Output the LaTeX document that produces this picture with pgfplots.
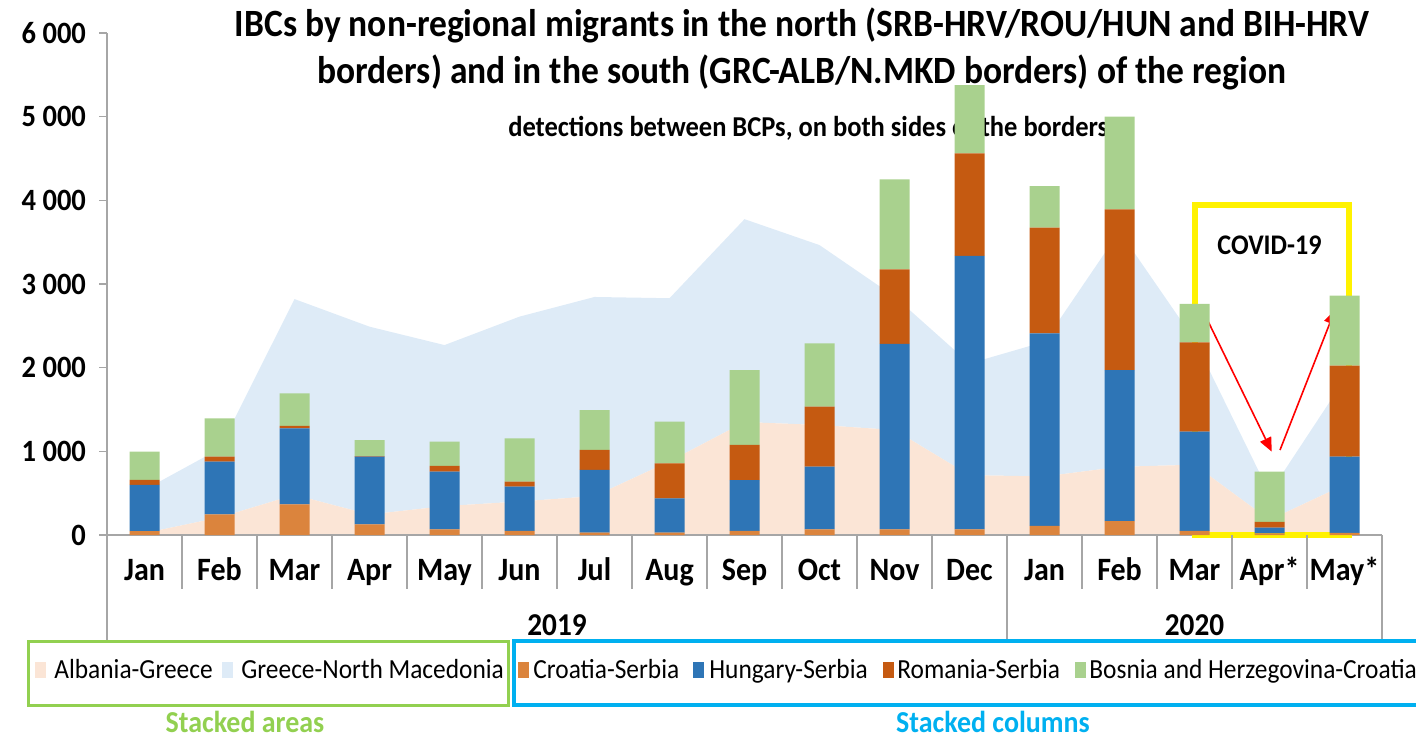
\documentclass[border=0pt]{standalone}
\usepackage{fontspec}
\setmainfont{Carlito}[FakeStretch=0.92]
\usepackage{pgfplots}
\pgfplotsset{compat=1.18}
\usetikzlibrary{arrows.meta}
\definecolor{agr}{HTML}{FBE5D6}
\definecolor{gnm}{HTML}{DEEBF7}
\definecolor{crs}{HTML}{DB843D}
\definecolor{hus}{HTML}{2E75B6}
\definecolor{ros}{HTML}{C55A11}
\definecolor{bhc}{HTML}{A9D18E}
\definecolor{axgray}{HTML}{A6A6A6}
\definecolor{lgreen}{HTML}{92D050}
\definecolor{lblue}{HTML}{00B0F0}
\begin{document}
\begin{tikzpicture}
\useasboundingbox (0,0) rectangle (708pt,369pt);
\pgfplotsset{base/.style={at={(53.5pt,101.5pt)}, anchor=south west, scale only axis,
  width=637.5pt, height=251pt, xmin=-0.5, xmax=16.5, ymin=0, ymax=6000, enlargelimits=false}}
% stacked areas
\begin{axis}[base, axis lines=none, stack plots=y]
\addplot[fill=agr, draw=none] coordinates {(0,22)(1,210)(2,480)(3,245)(4,345)(5,400)(6,465)(7,880)(8,1350)(9,1315)(10,1255)(11,715)(12,700)(13,815)(14,840)(15,180)(16,600)} \closedcycle;
\addplot[fill=gnm, draw=none] coordinates {(0,518)(1,820)(2,2340)(3,2245)(4,1925)(5,2210)(6,2380)(7,1950)(8,2425)(9,2150)(10,1595)(11,1335)(12,1610)(13,2815)(14,1490)(15,320)(16,1260)} \closedcycle;
\end{axis}
% stacked columns
\begin{axis}[base, ybar stacked, bar width=15pt, clip=false,
  axis x line*=bottom, axis y line*=left,
  axis line style={axgray, line width=0.75pt, -},
  ytick={0,1000,...,6000}, scaled y ticks=false,
  ytick style={axgray, line width=0.75pt},
  tick align=outside, major tick length=4pt,
  yticklabel style={font=\fontsize{15.5pt}{17pt}\selectfont\bfseries, xshift=-3pt},
  /pgf/number format/1000 sep={\ },
  /pgf/number format/assume math mode=true,
  xtick={0,...,16},
  xticklabels={Jan,Feb,Mar,Apr,May,Jun,Jul,Aug,Sep,Oct,Nov,Dec,Jan,Feb,Mar,Apr*,May*},
  xtick style={draw=none},
  xticklabel style={font=\fontsize{16.3pt}{18pt}\selectfont\bfseries, anchor=base, yshift=-18.5pt},
]
\addplot[fill=crs, draw=none] coordinates {(0,45)(1,247)(2,367)(3,127)(4,68)(5,48)(6,28)(7,28)(8,48)(9,68)(10,68)(11,68)(12,108)(13,167)(14,48)(15,20)(16,25)};
\addplot[fill=hus, draw=none] coordinates {(0,553)(1,629)(2,908)(3,809)(4,689)(5,530)(6,749)(7,410)(8,609)(9,749)(10,2215)(11,3267)(12,2303)(13,1805)(14,1187)(15,68)(16,911)};
\addplot[fill=ros, draw=none] coordinates {(0,60)(1,60)(2,28)(3,8)(4,68)(5,59)(6,239)(7,419)(8,419)(9,717)(10,892)(11,1227)(12,1262)(13,1921)(14,1068)(15,70)(16,1088)};
\addplot[fill=bhc, draw=none] coordinates {(0,340)(1,459)(2,390)(3,191)(4,290)(5,518)(6,478)(7,497)(8,896)(9,757)(10,1076)(11,816)(12,498)(13,1107)(14,458)(15,600)(16,836)};
% category separators
\pgfplotsinvokeforeach{0.5,1.5,2.5,3.5,4.5,5.5,6.5,7.5,8.5,9.5,10.5,12.5,13.5,14.5,15.5}{
  \draw[axgray, line width=0.75pt] (axis cs:#1,0) -- ++(0pt,-27pt);
}
\pgfplotsinvokeforeach{-0.5,11.5,16.5}{
  \draw[axgray, line width=0.75pt] (axis cs:#1,0) -- ++(0pt,-52.5pt);
}
\node[font=\fontsize{15.9pt}{18pt}\selectfont\bfseries, anchor=base] at ([yshift=-50pt]axis cs:5.5,0) {2019};
\node[font=\fontsize{15.9pt}{18pt}\selectfont\bfseries, anchor=base] at ([yshift=-50pt]axis cs:14,0) {2020};
% COVID annotation
\draw[yellow, line width=3pt] (axis cs:14.0,0) rectangle (axis cs:16.057,3948);
\node[font=\fontsize{14.2pt}{16pt}\selectfont\bfseries] at (axis cs:15.0,3466) {COVID-19};
\draw[red, line width=0.8pt, -{Triangle[length=7pt,width=6pt]}] (axis cs:14.14,2629) -- (axis cs:15.03,996);
\draw[red, line width=0.8pt, -{Triangle[length=7pt,width=6pt]}] (axis cs:15.14,1016) -- (axis cs:15.873,2689);
% titles
\node[align=center, font=\fontsize{19.3pt}{23.5pt}\selectfont\bfseries] at (axis description cs:0.545,0.968)
  {IBCs by non-regional migrants in the north (SRB-HRV/ROU/HUN and BIH-HRV\\borders) and in the south (GRC-ALB/N.MKD borders) of the region};
\node[font=\fontsize{14.4pt}{16pt}\selectfont\bfseries] at (axis description cs:0.55,0.811)
  {detections between BCPs, on both sides of the borders};
\end{axis}
% legend
\draw[lgreen, line width=1.5pt] (14pt,16.5pt) rectangle (254pt,48.5pt);
\draw[lblue, line width=2pt] (257pt,16.5pt) rectangle (712pt,48.5pt);
\begin{scope}[every node/.style={font=\fontsize{13.8pt}{15pt}\selectfont, inner sep=0pt, anchor=base west}]
\fill[agr] (17.5pt,30pt) rectangle (23pt,38pt);
\node at (27pt,30pt) {Albania-Greece};
\fill[gnm] (111pt,30pt) rectangle (116.5pt,38pt);
\node at (120.5pt,30pt) {Greece-North Macedonia};
\fill[crs] (259pt,30pt) rectangle (264.5pt,38pt);
\node at (266.5pt,30pt) {Croatia-Serbia};
\fill[hus] (346.5pt,30pt) rectangle (352pt,38pt);
\node at (354.5pt,30pt) {Hungary-Serbia};
\fill[ros] (441.5pt,30pt) rectangle (447pt,38pt);
\node at (448.5pt,30pt) {Romania-Serbia};
\fill[bhc] (537.5pt,30pt) rectangle (543pt,38pt);
\node at (544.5pt,30pt) {Bosnia and Herzegovina-Croatia};
\end{scope}
\node[font=\fontsize{15.2pt}{17pt}\selectfont\bfseries, text=lgreen] at (122.5pt,8pt) {Stacked areas};
\node[font=\fontsize{15.2pt}{17pt}\selectfont\bfseries, text=lblue] at (496.5pt,8pt) {Stacked columns};
\end{tikzpicture}
\end{document}
